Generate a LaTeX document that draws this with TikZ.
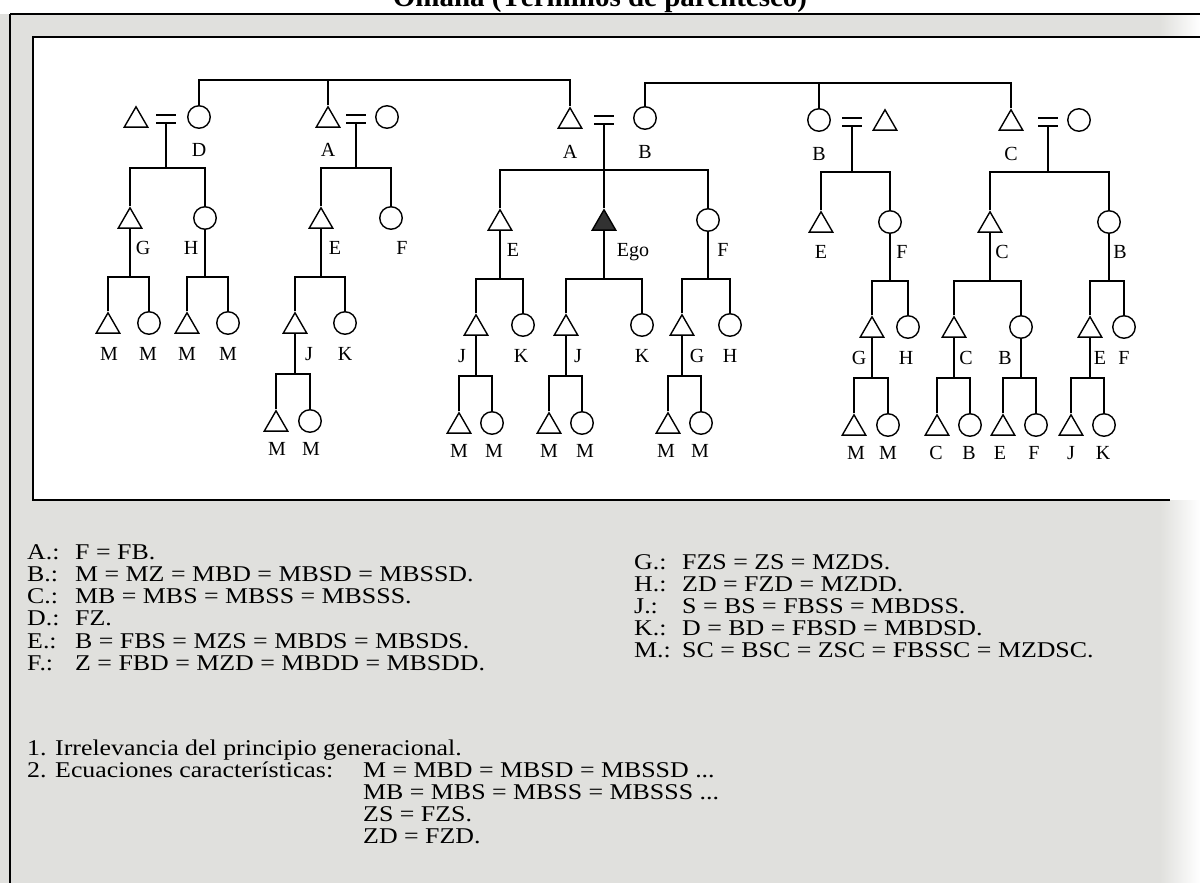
\documentclass[tikz,border=0pt]{standalone}
\usepackage{fontspec}
\setmainfont{Liberation Serif}
\newfontfamily\eqfont[FakeStretch=1.15]{Liberation Serif}
\usepackage{tikz}
\usetikzlibrary{shapes.geometric, positioning}
\definecolor{pagegray}{RGB}{224,224,221}
\definecolor{egofill}{RGB}{50,50,50}
\newcommand{\eqkey}[1]{\makebox[48pt][l]{#1}}
\newcommand{\numkey}[1]{\makebox[28pt][l]{#1}}

\begin{document}
\begin{tikzpicture}[
    x=1pt, y=-1pt,
    tri/.style={regular polygon, regular polygon sides=3, draw, line width=1.4pt, minimum size=27pt, inner sep=0pt, yshift=-3.3pt},
    circ/.style={circle, draw, line width=1.4pt, minimum size=22.5pt, inner sep=0pt},
    ego/.style={tri, fill=egofill},
    wed/.style={minimum width=19pt, minimum height=7pt, inner sep=0pt,
        append after command={(\tikzlastnode.north west) edge[line width=1.8pt] (\tikzlastnode.north east)
                              (\tikzlastnode.south west) edge[line width=1.8pt] (\tikzlastnode.south east)}},
    link/.style={line width=1.5pt},
    lbl/.style={anchor=base, inner sep=0pt, font=\fontsize{20}{20}\selectfont},
    eqline/.style={anchor=base west, inner sep=0pt, font=\eqfont\fontsize{22.5}{22}\selectfont}
]
\useasboundingbox (0,0) rectangle (1200,883);

% Page and frame
\fill[white] (0,0) rectangle (1200,883);
\fill[pagegray] (0,14) rectangle (1200,883);
\shade[left color=pagegray, right color=white] (1160,14) rectangle (1200,883);
\draw[line width=2.4pt] (10,14) -- (1200,14);
\draw[line width=1.2pt] (10,14) -- (10,883);
\fill[white] (33,37) rectangle (1200,500);
\draw[line width=2pt] (1200,37) -- (33,37) -- (33,500) -- (1170,500);
\node[anchor=base, inner sep=0pt, font=\bfseries\fontsize{29}{29}\selectfont] (title) at (600,7) {Omaha (Términos de parentesco)};

% First generation
\node[tri] (h1) at (136,117) {};
\node[wed] (w1) at (166,119) {};
\node[circ] (D) at (199,117) {};
\node[tri] (h2) at (328,117) {};
\node[wed] (w2) at (356,119) {};
\node[circ] (f2) at (387,117) {};
\node[tri] (A) at (570,118) {};
\node[wed] (w3) at (604,120) {};
\node[circ] (B) at (645,118) {};
\node[circ] (f4) at (819,120) {};
\node[wed] (w4) at (852,122) {};
\node[tri] (h4) at (885,120) {};
\node[tri] (C) at (1011,120) {};
\node[wed] (w5) at (1048,122) {};
\node[circ] (f5) at (1079,120) {};

\node[lbl] (lD) at (199,156) {D};
\node[lbl] (lh2) at (328,156) {A};
\node[lbl] (lA) at (570,158) {A};
\node[lbl] (lB) at (645,158) {B};
\node[lbl] (lf4) at (819,160) {B};
\node[lbl] (lC) at (1011,160) {C};

\coordinate (sibL) at (328,80);
\coordinate (sibR) at (819,83);
\draw[link] (D) |- (sibL) -| (A);
\draw[link] (h2) -- (sibL);
\draw[link] (B) |- (sibR) -| (C);
\draw[link] (f4) -- (sibR);

% Second generation
\node[tri] (G1) at (130,218) {};
\node[circ] (H1) at (205,218) {};
\node[tri] (E2) at (321,218) {};
\node[circ] (F2) at (391,218) {};
\node[tri] (E3) at (500,220) {};
\node[ego] (Ego) at (604,220) {};
\node[circ] (F3) at (708,220) {};
\node[tri] (E4) at (821,222) {};
\node[circ] (F4) at (890,222) {};
\node[tri] (C5) at (990,222) {};
\node[circ] (B5) at (1109,222) {};

\node[lbl] (lG1) at (143,254) {G};
\node[lbl] (lH1) at (191,254) {H};
\node[lbl] (lE2) at (335,254) {E};
\node[lbl] (lF2) at (402,254) {F};
\node[lbl] (lE3) at (513,256) {E};
\node[lbl] (lEgo) at (633,256) {Ego};
\node[lbl] (lF3) at (723,256) {F};
\node[lbl] (lE4) at (821,258) {E};
\node[lbl] (lF4) at (902,258) {F};
\node[lbl] (lC5) at (1002,258) {C};
\node[lbl] (lB5) at (1120,258) {B};

\coordinate (k1) at (166,168);
\coordinate (k2) at (356,168);
\coordinate (k3) at (604,170);
\coordinate (k4) at (852,172);
\coordinate (k5) at (1048,172);
\draw[link] (w1.south) -- (k1);  \draw[link] (G1) |- (k1) -| (H1);
\draw[link] (w2.south) -- (k2);  \draw[link] (E2) |- (k2) -| (F2);
\draw[link] (w3.south) -- (Ego); \draw[link] (E3) |- (k3) -| (F3);
\draw[link] (w4.south) -- (k4);  \draw[link] (E4) |- (k4) -| (F4);
\draw[link] (w5.south) -- (k5);  \draw[link] (C5) |- (k5) -| (B5);

% Third generation
\node[tri] (M1a) at (108,323) {};
\node[circ] (M1b) at (149,323) {};
\node[tri] (M1c) at (187,323) {};
\node[circ] (M1d) at (228,323) {};
\node[tri] (J2) at (295,323) {};
\node[circ] (K2) at (345,323) {};
\node[tri] (J3) at (476,325) {};
\node[circ] (K3) at (523,325) {};
\node[tri] (J0) at (566,325) {};
\node[circ] (K0) at (642,325) {};
\node[tri] (G3) at (682,325) {};
\node[circ] (H3) at (730,325) {};
\node[tri] (G4) at (872,327) {};
\node[circ] (H4) at (908,327) {};
\node[tri] (C5a) at (954,327) {};
\node[circ] (B5a) at (1021,327) {};
\node[tri] (E5) at (1090,327) {};
\node[circ] (F5) at (1124,327) {};

\node[lbl] (lM1a) at (109,360) {M};
\node[lbl] (lM1b) at (148,360) {M};
\node[lbl] (lM1c) at (187,360) {M};
\node[lbl] (lM1d) at (228,360) {M};
\node[lbl] (lJ2) at (309,360) {J};
\node[lbl] (lK2) at (345,360) {K};
\node[lbl] (lJ3) at (462,362) {J};
\node[lbl] (lK3) at (521,362) {K};
\node[lbl] (lJ0) at (578,362) {J};
\node[lbl] (lK0) at (642,362) {K};
\node[lbl] (lG3) at (697,362) {G};
\node[lbl] (lH3) at (730,362) {H};
\node[lbl] (lG4) at (859,364) {G};
\node[lbl] (lH4) at (906,364) {H};
\node[lbl] (lC5a) at (966,364) {C};
\node[lbl] (lB5a) at (1005,364) {B};
\node[lbl] (lE5) at (1100,364) {E};
\node[lbl] (lF5) at (1124,364) {F};

\coordinate (kG1) at (130,277);
\coordinate (kH1) at (205,277);
\coordinate (kE2) at (321,277);
\coordinate (kE3) at (500,279);
\coordinate (kEgo) at (604,279);
\coordinate (kF3) at (708,279);
\coordinate (kF4) at (890,281);
\coordinate (kC5) at (990,281);
\coordinate (kB5) at (1109,281);
\draw[link] (G1) -- (kG1);   \draw[link] (M1a) |- (kG1) -| (M1b);
\draw[link] (H1) -- (kH1);   \draw[link] (M1c) |- (kH1) -| (M1d);
\draw[link] (E2) -- (kE2);   \draw[link] (J2) |- (kE2) -| (K2);
\draw[link] (E3) -- (kE3);   \draw[link] (J3) |- (kE3) -| (K3);
\draw[link] (Ego) -- (kEgo); \draw[link] (J0) |- (kEgo) -| (K0);
\draw[link] (F3) -- (kF3);   \draw[link] (G3) |- (kF3) -| (H3);
\draw[link] (F4) -- (kF4);   \draw[link] (G4) |- (kF4) -| (H4);
\draw[link] (C5) -- (kC5);   \draw[link] (C5a) |- (kC5) -| (B5a);
\draw[link] (B5) -- (kB5);   \draw[link] (E5) |- (kB5) -| (F5);

% Fourth generation
\node[tri] (M2a) at (276,421) {};
\node[circ] (M2b) at (310,421) {};
\node[tri] (M3a) at (459,423) {};
\node[circ] (M3b) at (492,423) {};
\node[tri] (M0a) at (549,423) {};
\node[circ] (M0b) at (582,423) {};
\node[tri] (M3c) at (668,423) {};
\node[circ] (M3d) at (701,423) {};
\node[tri] (M4a) at (854,425) {};
\node[circ] (M4b) at (888,425) {};
\node[tri] (C5b) at (937,425) {};
\node[circ] (B5b) at (970,425) {};
\node[tri] (E5b) at (1003,425) {};
\node[circ] (F5b) at (1036,425) {};
\node[tri] (J5) at (1071,425) {};
\node[circ] (K5) at (1104,425) {};

\node[lbl] (lM2a) at (277,455) {M};
\node[lbl] (lM2b) at (311,455) {M};
\node[lbl] (lM3a) at (459,457) {M};
\node[lbl] (lM3b) at (494,457) {M};
\node[lbl] (lM0a) at (549,457) {M};
\node[lbl] (lM0b) at (585,457) {M};
\node[lbl] (lM3c) at (666,457) {M};
\node[lbl] (lM3d) at (700,457) {M};
\node[lbl] (lM4a) at (856,459) {M};
\node[lbl] (lM4b) at (888,459) {M};
\node[lbl] (lC5b) at (936,459) {C};
\node[lbl] (lB5b) at (969,459) {B};
\node[lbl] (lE5b) at (1000,459) {E};
\node[lbl] (lF5b) at (1034,459) {F};
\node[lbl] (lJ5) at (1071,459) {J};
\node[lbl] (lK5) at (1103,459) {K};

\coordinate (kJ2) at (295,374);
\coordinate (kJ3) at (476,376);
\coordinate (kJ0) at (566,376);
\coordinate (kG3) at (682,376);
\coordinate (kG4) at (872,378);
\coordinate (kC5a) at (954,378);
\coordinate (kB5a) at (1021,378);
\coordinate (kE5) at (1090,378);
\draw[link] (J2) -- (kJ2);   \draw[link] (M2a) |- (kJ2) -| (M2b);
\draw[link] (J3) -- (kJ3);   \draw[link] (M3a) |- (kJ3) -| (M3b);
\draw[link] (J0) -- (kJ0);   \draw[link] (M0a) |- (kJ0) -| (M0b);
\draw[link] (G3) -- (kG3);   \draw[link] (M3c) |- (kG3) -| (M3d);
\draw[link] (G4) -- (kG4);   \draw[link] (M4a) |- (kG4) -| (M4b);
\draw[link] (C5a) -- (kC5a); \draw[link] (C5b) |- (kC5a) -| (B5b);
\draw[link] (B5a) -- (kB5a); \draw[link] (E5b) |- (kB5a) -| (F5b);
\draw[link] (E5) -- (kE5);   \draw[link] (J5) |- (kE5) -| (K5);

% Equations
\node[eqline] (eqA) at (27,559) {\eqkey{A.:}F = FB.};
\node[eqline] (eqB) at (27,581) {\eqkey{B.:}M = MZ = MBD = MBSD = MBSSD.};
\node[eqline] (eqC) at (27,603) {\eqkey{C.:}MB = MBS = MBSS = MBSSS.};
\node[eqline] (eqD) at (27,625) {\eqkey{D.:}FZ.};
\node[eqline] (eqE) at (27,648) {\eqkey{E.:}B = FBS = MZS = MBDS = MBSDS.};
\node[eqline] (eqF) at (27,670) {\eqkey{F.:}Z = FBD = MZD = MBDD = MBSDD.};
\node[eqline] (eqG) at (634,569) {\eqkey{G.:}FZS = ZS = MZDS.};
\node[eqline] (eqH) at (634,591) {\eqkey{H.:}ZD = FZD = MZDD.};
\node[eqline] (eqJ) at (634,613) {\eqkey{J.:}S = BS = FBSS = MBDSS.};
\node[eqline] (eqK) at (634,635) {\eqkey{K.:}D = BD = FBSD = MBDSD.};
\node[eqline] (eqM) at (634,657) {\eqkey{M.:}SC = BSC = ZSC = FBSSC = MZDSC.};

% Notes
\node[eqline] (note1) at (27,755) {\numkey{1.}Irrelevancia del principio generacional.};
\node[eqline] (note2) at (27,777) {\numkey{2.}Ecuaciones características:};
\node[eqline] (ch1) at (363,777) {M = MBD = MBSD = MBSSD ...};
\node[eqline] (ch2) at (363,799) {MB = MBS = MBSS = MBSSS ...};
\node[eqline] (ch3) at (363,821) {ZS = FZS.};
\node[eqline] (ch4) at (363,843) {ZD = FZD.};

\end{tikzpicture}
\end{document}
